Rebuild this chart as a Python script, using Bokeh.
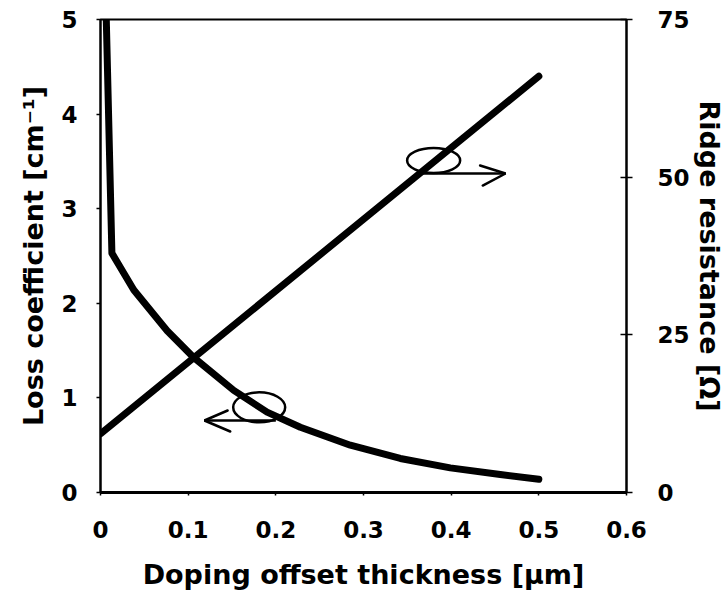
from bokeh.plotting import figure
from bokeh.models import Range1d, LinearAxis, FixedTicker
from bokeh.embed import file_html
from bokeh.resources import INLINE

# ---- data ----
offset_um = [0.0066, 0.013, 0.038, 0.076, 0.106, 0.152, 0.19, 0.228, 0.285, 0.342, 0.399, 0.456, 0.5]
loss_cm = [5.0, 2.53, 2.14, 1.71, 1.43, 1.08, 0.85, 0.69, 0.50, 0.36, 0.26, 0.19, 0.14]

res_offset_um = [0.0, 0.5]
ridge_res_ohm = [9.3, 66.0]

x_ticks = [0, 0.1, 0.2, 0.3, 0.4, 0.5, 0.6]
x_tick_labels = ["0", "0.1", "0.2", "0.3", "0.4", "0.5", "0.6"]
left_ticks = [0, 1, 2, 3, 4, 5]
right_ticks = [0, 25, 50, 75]

# annotation marks (ellipses + arrows) in data units of the left axis
ell_x = [0.181, 0.380]
ell_y = [0.90, 3.51]
ell_w = [0.0593, 0.0605]
ell_h = [0.317, 0.264]
arrow_shaft_xs = [[0.200, 0.1186], [0.368, 0.462]]
arrow_shaft_ys = [[0.761, 0.761], [3.372, 3.372]]
arrow_head_xs = [[0.145, 0.1186, 0.148], [0.433, 0.462, 0.436]]
arrow_head_ys = [[0.867, 0.761, 0.645], [3.457, 3.372, 3.245]]

FONT = "DejaVu Sans"

p = figure(frame_width=526, frame_height=473,
           x_range=Range1d(0, 0.6), y_range=Range1d(0, 5),
           output_backend="svg", toolbar_location=None,
           min_border_left=100, min_border_right=90, min_border_top=19, min_border_bottom=96)
p.extra_y_ranges = {"res": Range1d(0, 75)}

p.background_fill_color = "white"
p.border_fill_color = "white"
p.outline_line_color = "black"
p.outline_line_width = 2
p.xgrid.visible = False
p.ygrid.visible = False

# lines
p.line(offset_um, loss_cm, line_color="black", line_width=7, line_cap="round", line_join="round")
p.line(res_offset_um, ridge_res_ohm, y_range_name="res", line_color="black", line_width=7,
       line_cap="round", line_join="round")

# annotation ellipses and arrows
p.ellipse(x=ell_x, y=ell_y, width=ell_w, height=ell_h, fill_color=None,
          line_color="black", line_width=2.5)
p.multi_line(arrow_shaft_xs, arrow_shaft_ys, line_color="black", line_width=2.5)
p.multi_line(arrow_head_xs, arrow_head_ys, line_color="black", line_width=2.5, line_cap="round")

# right axis
raxis = LinearAxis(y_range_name="res", axis_label="Ridge resistance [Ω]")
p.add_layout(raxis, "right")

def style_axis(ax):
    ax.axis_line_color = "black"
    ax.major_tick_line_color = "black"
    ax.minor_tick_line_color = None
    ax.major_label_text_font = FONT
    ax.major_label_text_font_style = "bold"
    ax.major_label_text_font_size = "23px"
    ax.major_label_text_color = "black"
    ax.axis_label_text_font = FONT
    ax.axis_label_text_font_style = "bold"
    ax.axis_label_text_font_size = "27px"
    ax.axis_label_text_color = "black"

xax = p.xaxis[0]
lax = p.yaxis[0]
for ax in (xax, lax, raxis):
    style_axis(ax)

xax.axis_label = "Doping offset thickness [µm]"
xax.ticker = FixedTicker(ticks=x_ticks)
xax.major_label_overrides = {t: s for t, s in zip(x_ticks, x_tick_labels)}
xax.axis_line_width = 3
xax.major_tick_in = 0
xax.major_tick_out = 3
xax.major_tick_line_width = 1.5
xax.major_label_standoff = 25
xax.axis_label_standoff = 18

lax.axis_label = "Loss coefficient [cm⁻¹]"
lax.ticker = FixedTicker(ticks=left_ticks)
lax.axis_line_width = 2
lax.major_tick_in = 0
lax.major_tick_out = 4
lax.major_tick_line_width = 1.5
lax.major_label_standoff = 19
lax.axis_label_standoff = 9

raxis.ticker = FixedTicker(ticks=right_ticks)
raxis.axis_line_width = 2
raxis.major_tick_in = 6
raxis.major_tick_out = 6
raxis.major_tick_line_width = 1.5
raxis.major_label_standoff = 25
raxis.axis_label_standoff = 1

open("out.html", "w").write(file_html(p, INLINE))
